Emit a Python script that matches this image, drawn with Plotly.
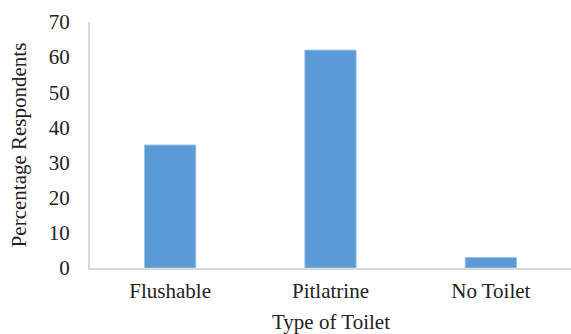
import plotly.graph_objects as go

# Share of respondents by type of toilet
toilet_types = ["Flushable", "Pitlatrine", "No Toilet"]
percent_respondents = [35, 62, 3]
y_ticks = [0, 10, 20, 30, 40, 50, 60, 70]

fig = go.Figure(
    go.Bar(
        x=toilet_types,
        y=percent_respondents,
        marker=dict(color="#5b9bd5", line=dict(color="#9dc3e6", width=1)),
        width=0.32,
    )
)

font = dict(family="Liberation Serif, Times New Roman, serif", size=21, color="#222222")

fig.update_layout(
    width=571,
    height=334,
    margin=dict(l=90, r=0, t=22, b=66),
    paper_bgcolor="white",
    plot_bgcolor="white",
    font=font,
    showlegend=False,
    xaxis=dict(
        showline=True,
        linecolor="#d9d9d9",
        linewidth=2,
        ticks="",
        showgrid=False,
        automargin=False,
        tickfont=dict(size=21),
        ticklabelstandoff=3,
    ),
    yaxis=dict(
        range=[0, 70],
        tickvals=y_ticks,
        showline=True,
        linecolor="#d9d9d9",
        linewidth=2,
        ticks="",
        showgrid=False,
        zeroline=False,
        automargin=False,
        tickfont=dict(size=21),
        ticklabelstandoff=14,
        title=dict(text="Percentage Respondents", font=dict(size=21), standoff=16),
    ),
)

# x-axis title placed below the category labels
fig.add_annotation(
    text="Type of Toilet",
    xref="paper",
    yref="paper",
    x=0.5,
    y=-0.163,
    xanchor="center",
    yanchor="top",
    showarrow=False,
    font=dict(size=21),
)

fig.write_html("out.html")
